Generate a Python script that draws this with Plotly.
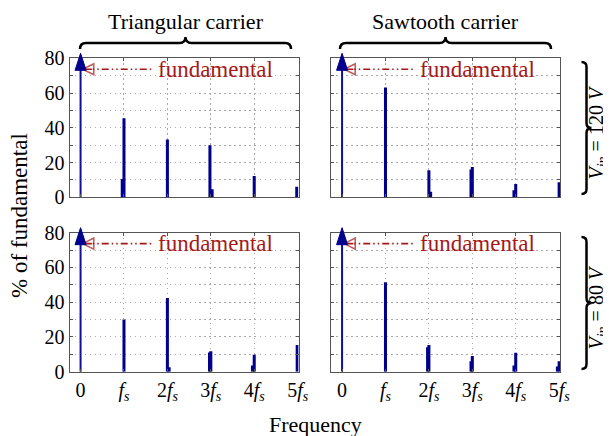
import plotly.graph_objects as go

# The page body has an 8px margin, so the figure is made 8px smaller
# and all layout positions are given in window pixels minus that offset.
WIN_W, WIN_H, OFF = 611, 436, 8
W, H = WIN_W - OFF, WIN_H - OFF

# ---------------- data ----------------
harm_ticks = [0, 1, 2, 3, 4, 5]
harm_labels = ["0",
               "<i>f</i><sub><i>s</i></sub>",
               "2<i>f</i><sub><i>s</i></sub>",
               "3<i>f</i><sub><i>s</i></sub>",
               "4<i>f</i><sub><i>s</i></sub>",
               "5<i>f</i><sub><i>s</i></sub>"]
y_ticks = [0, 10, 20, 30, 40, 50, 60, 70, 80]
y_labels = ["0", "", "20", "", "40", "", "60", "", "80"]

# harmonic frequency (multiples of fs) and amplitude (% of fundamental)
tri120_f = [0.96, 1.0, 2.0, 2.98, 3.03, 4.0, 4.98]
tri120_a = [10.5, 45.5, 33.3, 29.9, 4.7, 12.2, 6.0]
saw120_f = [1.0, 2.0, 2.04, 2.97, 3.0, 3.96, 4.0, 5.0]
saw120_a = [63.2, 15.6, 3.2, 16.0, 17.5, 4.0, 7.6, 8.6]
tri80_f = [1.0, 2.0, 2.04, 2.97, 3.0, 3.96, 4.0, 4.99]
tri80_a = [30.0, 42.4, 2.5, 11.0, 11.8, 3.5, 9.8, 15.3]
saw80_f = [1.0, 1.97, 2.0, 2.97, 3.0, 3.96, 4.0, 4.96, 5.0]
saw80_a = [51.5, 14.0, 15.3, 6.0, 9.0, 3.5, 10.9, 3.0, 6.0]
fundamental_f = 0
fundamental_pct = 100
fund_label_y = 73.7

col_titles = ["Triangular carrier", "Sawtooth carrier"]
row_titles = ["<i>V</i><sub><i>in</i></sub> = 120 <i>V</i>",
              "<i>V</i><sub><i>in</i></sub> = 80 <i>V</i>"]

X_RANGE = [-0.255, 5.02]
Y_RANGE = [0, 80]

# ---------------- layout helpers ----------------
def px(x):
    return (x - OFF) / W

def py(y):
    return 1 - (y - OFF) / H

FONT = "Liberation Serif"
NAVY = "rgb(0,0,140)"
FUNDC = "rgb(15,15,150)"
RED = "rgb(165,25,25)"
GRID = "#a8a8a8"
FRAME = "#555555"

xpix = [(69.5, 298.5), (331, 560)]
ypix = [(58.3, 197.3), (232.7, 371.7)]
xdom = [[px(a), px(b)] for a, b in xpix]
ydom = [[py(b), py(a)] for a, b in ypix]

panels = [
    (tri120_f, tri120_a, 0, 0),
    (saw120_f, saw120_a, 0, 1),
    (tri80_f, tri80_a, 1, 0),
    (saw80_f, saw80_a, 1, 1),
]

fig = go.Figure()
layout = dict(
    width=W, height=H,
    margin=dict(l=0, r=0, t=0, b=0, pad=0, autoexpand=False),
    paper_bgcolor="white", plot_bgcolor="white",
    showlegend=False, barmode="overlay",
    font=dict(family=FONT, size=20, color="black"),
)
annotations = []
shapes = []

for i, (f, a, r, c) in enumerate(panels):
    n = i + 1
    xa = "x" if n == 1 else f"x{n}"
    ya = "y" if n == 1 else f"y{n}"
    xkey = "xaxis" if n == 1 else f"xaxis{n}"
    ykey = "yaxis" if n == 1 else f"yaxis{n}"
    common = dict(showgrid=True, gridcolor=GRID, griddash="1.5px,3.5px", gridwidth=1,
                  zeroline=False, showline=True, linecolor=FRAME, linewidth=1,
                  mirror="ticks", ticks="inside", ticklen=3, tickcolor=FRAME,
                  automargin=False, tickfont=dict(family=FONT, size=20))
    layout[xkey] = dict(domain=xdom[c], anchor=ya, range=X_RANGE,
                        tickmode="array", tickvals=harm_ticks, ticktext=harm_labels,
                        showticklabels=(r == 1), **common)
    layout[ykey] = dict(domain=ydom[r], anchor=xa, range=Y_RANGE,
                        tickmode="array", tickvals=y_ticks, ticktext=y_labels,
                        showticklabels=(c == 0), **common)

    fig.add_trace(go.Bar(x=f, y=a, width=0.07, marker=dict(color=NAVY, line=dict(width=0)),
                         xaxis=xa, yaxis=ya, hoverinfo="x+y"))
    # fundamental (off scale): line clipped at the top of the axis + arrow head
    fig.add_trace(go.Scatter(x=[fundamental_f, fundamental_f], y=[0, fundamental_pct],
                             mode="lines", line=dict(color=FUNDC, width=2),
                             xaxis=xa, yaxis=ya, hoverinfo="skip"))
    xd = "x domain" if n == 1 else f"x{n} domain"
    yd = "y domain" if n == 1 else f"y{n} domain"
    pw = xpix[c][1] - xpix[c][0]
    ph = ypix[r][1] - ypix[r][0]
    fx = (fundamental_f - X_RANGE[0]) / (X_RANGE[1] - X_RANGE[0])
    hw, tip, base = 5.5 / pw, 1 + 5.0 / ph, 1 - 12.0 / ph
    shapes.append(dict(type="path", xref=xd, yref=yd,
                       path=f"M{fx - hw},{base} L{fx},{tip} L{fx + hw},{base} Z",
                       fillcolor=NAVY, line=dict(color=NAVY, width=1)))
    # dash-dot pointer to the fundamental
    fig.add_trace(go.Scatter(x=[0.28, 1.64], y=[fund_label_y, fund_label_y], mode="lines",
                             line=dict(color=RED, width=1.6,
                                       dash="1.5px,3px,1.5px,3px,7px,3px"),
                             xaxis=xa, yaxis=ya, hoverinfo="skip"))
    fig.add_trace(go.Scatter(x=[0.05, 0.26], y=[fund_label_y, fund_label_y],
                             mode="lines+markers",
                             line=dict(color=RED, width=1.6),
                             marker=dict(symbol=["arrow-left-open", "line-ns"], size=[11, 0],
                                         color=RED, line=dict(width=1.6, color=RED)),
                             xaxis=xa, yaxis=ya, hoverinfo="skip"))
    annotations.append(dict(x=1.74, y=fund_label_y, xref=xa, yref=ya, text="fundamental",
                            showarrow=False, xanchor="left", yanchor="middle",
                            font=dict(family=FONT, size=23, color=RED)))

# column titles and braces
def hbrace(x0, x1, y, a):
    xm = (x0 + x1) / 2
    pts = (f"M{px(x0)},{py(y + a)} Q{px(x0)},{py(y)} {px(x0 + a)},{py(y)} "
           f"L{px(xm - a)},{py(y)} Q{px(xm)},{py(y)} {px(xm)},{py(y - a)} "
           f"Q{px(xm)},{py(y)} {px(xm + a)},{py(y)} "
           f"L{px(x1 - a)},{py(y)} Q{px(x1)},{py(y)} {px(x1)},{py(y + a)}")
    return dict(type="path", path=pts, xref="paper", yref="paper",
                line=dict(color="black", width=2.5))

def vbrace(x, y0, y1, a):
    ym = (y0 + y1) / 2
    pts = (f"M{px(x - a)},{py(y0)} Q{px(x)},{py(y0)} {px(x)},{py(y0 + a)} "
           f"L{px(x)},{py(ym - a)} Q{px(x)},{py(ym)} {px(x + a)},{py(ym)} "
           f"Q{px(x)},{py(ym)} {px(x)},{py(ym + a)} "
           f"L{px(x)},{py(y1 - a)} Q{px(x)},{py(y1)} {px(x - a)},{py(y1)}")
    return dict(type="path", path=pts, xref="paper", yref="paper",
                line=dict(color="black", width=2.5))

for c, (x0, x1) in enumerate([(80, 291), (340, 551)]):
    shapes.append(hbrace(x0, x1, 43, 6))
    annotations.append(dict(x=px((x0 + x1) / 2), y=py(21), xref="paper", yref="paper",
                            text=col_titles[c], showarrow=False,
                            xanchor="center", yanchor="middle",
                            font=dict(family=FONT, size=22)))

for r, (y0, y1) in enumerate([(62, 194), (237, 369)]):
    shapes.append(vbrace(586.5, y0, y1, 5))
    annotations.append(dict(x=px(596.5), y=py((y0 + y1) / 2 + 5), xref="paper", yref="paper",
                            text=row_titles[r], showarrow=False, textangle=-90,
                            xanchor="center", yanchor="middle",
                            font=dict(family=FONT, size=20)))

annotations.append(dict(x=px(19), y=py(216), xref="paper", yref="paper",
                        text="% of fundamental", showarrow=False, textangle=-90,
                        xanchor="center", yanchor="middle",
                        font=dict(family=FONT, size=23)))
annotations.append(dict(x=px(315), y=py(424), xref="paper", yref="paper",
                        text="Frequency", showarrow=False,
                        xanchor="center", yanchor="middle",
                        font=dict(family=FONT, size=22)))

layout["annotations"] = annotations
layout["shapes"] = shapes
fig.update_layout(**layout)
fig.write_html("out.html")
